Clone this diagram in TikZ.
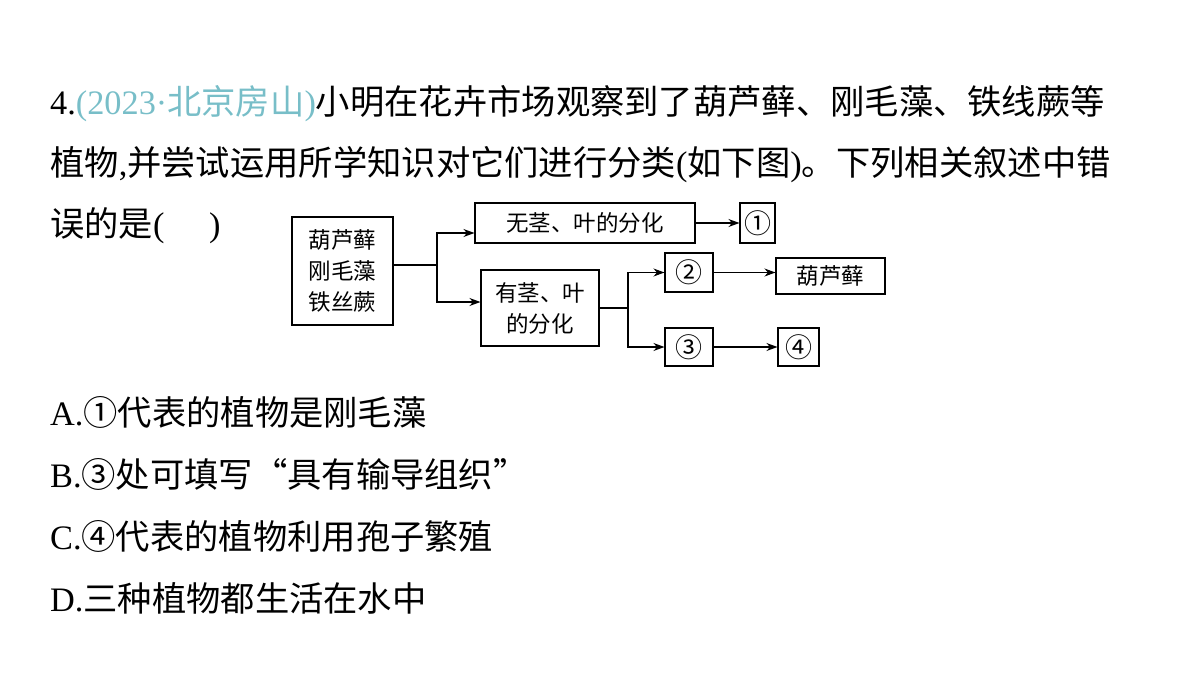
\documentclass[tikz,border=0pt]{standalone}
\usepackage{fontspec}
\setmainfont{Liberation Serif}
\newfontfamily\cjk{Noto Sans CJK SC}
\usetikzlibrary{arrows.meta}
\definecolor{teal2}{RGB}{120,190,200}
\begin{document}
\begin{tikzpicture}[x=1pt,y=-1pt,
  txt/.style={anchor=base west,inner sep=0pt,font=\fontsize{34.3}{38}\selectfont},
  box/.style={draw,line width=1.1pt,inner sep=0pt,font=\fontsize{22.5}{31}\selectfont\cjk,align=center},
  arr/.style={line width=1.1pt,-{Stealth[length=11pt,width=8pt]}},
  ln/.style={line width=1.1pt}]
\useasboundingbox (0,0) rectangle (1200,675);
\node[txt] (l1) at (50,114) {4.{\color{teal2}(2023·{\cjk 北京房山})}{\cjk 小明在花卉市场观察到了葫芦藓、刚毛藻、铁线蕨等}};
\node[txt] (l2) at (50,175) {{\cjk 植物},{\cjk 并尝试运用所学知识对它们进行分类}({\cjk 如下图}){\cjk 。下列相关叙述中错}};
\node[txt] (l3) at (50,236) {{\cjk 误的是}(\hspace{1.3em})};
\node[txt] (oa) at (50,425) {A.{\cjk ①代表的植物是刚毛藻}};
\node[txt] (ob) at (50,487) {B.{\cjk ③处可填写“具有输导组织”}};
\node[txt] (oc) at (50,549) {C.{\cjk ④代表的植物利用孢子繁殖}};
\node[txt] (od) at (50,611) {D.{\cjk 三种植物都生活在水中}};

\node[box,minimum width=101,minimum height=108] (a) at (342.5,271) {葫芦藓\\刚毛藻\\铁丝蕨};
\node[box,minimum width=220,minimum height=40] (b) at (585,223) {无茎、叶的分化};
\node[box,minimum width=35,minimum height=40,font=\fontsize{27}{30}\selectfont\cjk] (n1) at (757.5,223) {①};
\node[box,minimum width=118,minimum height=76] (c) at (540,308) {有茎、叶\\的分化};
\node[box,minimum width=48,minimum height=39,font=\fontsize{27}{30}\selectfont\cjk] (n2) at (689,272.5) {②};
\node[box,minimum width=109,minimum height=36] (h) at (830.5,276) {葫芦藓};
\node[box,minimum width=48,minimum height=38,font=\fontsize{27}{30}\selectfont\cjk] (n3) at (689,347) {③};
\node[box,minimum width=41,minimum height=38,font=\fontsize{27}{30}\selectfont\cjk] (n4) at (798.5,347) {④};

\coordinate (j1) at (437,265);
\coordinate (j2) at (628,308);
\draw[ln] (a.east |- j1) -- (j1);
\draw[arr] (j1) |- (b.west |- 0,233);
\draw[arr] (j1) |- (c.west |- 0,302);
\draw[ln] (c.east) -- (j2);
\draw[arr] (j2) |- (n2.west);
\draw[arr] (j2) |- (n3.west);
\draw[arr] (b.east) -- (n1.west);
\draw[arr] (n2.east) -- (h.west |- n2.east);
\draw[arr] (n3.east) -- (n4.west);
\end{tikzpicture}
\end{document}
